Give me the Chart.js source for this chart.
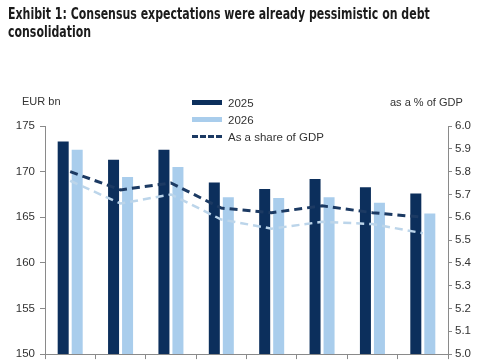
<!DOCTYPE html>
<html>
<head>
<meta charset="utf-8">
<script src="https://cdn.jsdelivr.net/npm/chart.js@4.4.1/dist/chart.umd.min.js"></script>
<style>
  html, body { margin: 0; padding: 0; background: #fff; }
  #wrap { position: relative; width: 485px; height: 360px; overflow: hidden; font-family: "Liberation Sans", Arial, sans-serif; color: #333; }
  #chart { position: absolute; left: 0; top: 0; }
  .title { position: absolute; left: 8px; top: 5px; font-family: "DejaVu Sans", sans-serif; font-weight: bold; font-size: 15px; line-height: 18px; color: #1b1b1b; white-space: nowrap; transform-origin: 0 0; }
  .axis-title { position: absolute; font-size: 11px; color: #333; }
  #legend { position: absolute; left: 192px; top: 94px; font-size: 11.5px; color: #333; }
  .leg-row { display: flex; align-items: center; height: 17px; }
  .leg-sw { width: 30px; height: 5px; margin-right: 6px; }
  .leg-dash { width: 30px; height: 0; border-top: 3px dashed; margin-right: 6px; }
</style>
</head>
<body>
<div id="wrap">
  <canvas id="chart" width="485" height="366"></canvas>
  <div class="title" id="title"><span id="t1">Exhibit 1: Consensus expectations were already pessimistic on debt</span><br>consolidation</div>
  <div class="axis-title" style="left:22px;top:95px;">EUR bn</div>
  <div class="axis-title" style="left:390px;top:96px;">as a % of GDP</div>
  <div id="legend"></div>
</div>
<script>
// categories (x labels are cut off in the reference, so not shown)
const CATEGORIES = ["Jan", "Feb", "Mar", "Apr", "May", "Jun", "Jul", "Aug"];
// EUR bn
const DEFICIT_2025 = [173.3, 171.3, 172.4, 168.8, 168.1, 169.2, 168.3, 167.6];
const DEFICIT_2026 = [172.4, 169.4, 170.5, 167.2, 167.1, 167.2, 166.6, 165.4];
// as a % of GDP
const SHARE_2025 = [5.80, 5.72, 5.75, 5.64, 5.62, 5.65, 5.62, 5.60];
const SHARE_2026 = [5.76, 5.66, 5.70, 5.59, 5.55, 5.58, 5.57, 5.53];
const LEFT_TICKS = [150, 155, 160, 165, 170, 175];
const RIGHT_TICKS = [5.0, 5.1, 5.2, 5.3, 5.4, 5.5, 5.6, 5.7, 5.8, 5.9, 6.0];

const DARK = "#0c2f5c";
const LIGHT = "#a9cdec";
const DARK_LINE = "#1c3a63";
const LIGHT_LINE = "#bcd5ea";
const AXIS = "#8a8a8a";

const datasets = [
  { type: "line", label: "As a share of GDP", data: SHARE_2025, yAxisID: "y1", borderColor: DARK_LINE, borderWidth: 3, borderDash: [8, 5], pointRadius: 0, fill: false, tension: 0, order: 0 },
  { type: "line", label: "", data: SHARE_2026, yAxisID: "y1", borderColor: LIGHT_LINE, borderWidth: 2.5, borderDash: [8, 5], pointRadius: 0, fill: false, tension: 0, order: 0 },
  { type: "bar", label: "2025", data: DEFICIT_2025, yAxisID: "y", backgroundColor: DARK, categoryPercentage: 0.556, barPercentage: 0.786, order: 1 },
  { type: "bar", label: "2026", data: DEFICIT_2026, yAxisID: "y", backgroundColor: LIGHT, categoryPercentage: 0.556, barPercentage: 0.786, order: 1 },
];

// squeeze the title so the first line spans like the reference (condensed face)
function fitTitle() {
  const w = document.getElementById("t1").getBoundingClientRect().width;
  const title = document.getElementById("title");
  title.style.transform = "scaleX(" + (422 / w).toFixed(3) + ")";
}

function initLegend() {
  const el = document.getElementById("legend");
  const items = [datasets[2], datasets[3], datasets[0]];
  items.forEach((d) => {
    const row = document.createElement("div");
    row.className = "leg-row";
    const sw = document.createElement("span");
    if (d.type === "bar") {
      sw.className = "leg-sw";
      sw.style.background = d.backgroundColor;
    } else {
      sw.className = "leg-dash";
      sw.style.borderColor = d.borderColor;
    }
    const txt = document.createElement("span");
    txt.textContent = d.label;
    row.appendChild(sw);
    row.appendChild(txt);
    el.appendChild(row);
  });
}

function initChart() {
  Chart.defaults.font.family = '"Liberation Sans", Arial, sans-serif';
  Chart.defaults.font.size = 11;
  Chart.defaults.color = "#333";

  new Chart(document.getElementById("chart"), {
    type: "bar",
    data: { labels: CATEGORIES, datasets },
    options: {
      responsive: false,
      animation: false,
      layout: { padding: { top: 126, left: 0, right: 0, bottom: 0 } },
      plugins: { legend: { display: false }, tooltip: { enabled: false } },
      scales: {
        x: {
          offset: true,
          grid: { display: true, drawOnChartArea: false, offset: true, tickLength: 5, color: AXIS },
          border: { color: AXIS },
          ticks: { display: false },
          afterFit: (s) => { s.height = 6; },
        },
        y: {
          position: "left",
          min: LEFT_TICKS[0],
          max: LEFT_TICKS[LEFT_TICKS.length - 1],
          afterBuildTicks: (s) => { s.ticks = LEFT_TICKS.map((v) => ({ value: v })); },
          ticks: { padding: 5, font: { size: 11.5 }, color: "#333" },
          grid: { drawOnChartArea: false, tickLength: 5, color: AXIS },
          border: { color: AXIS },
          afterFit: (s) => { s.width = 45; },
        },
        y1: {
          position: "right",
          min: RIGHT_TICKS[0],
          max: RIGHT_TICKS[RIGHT_TICKS.length - 1],
          afterBuildTicks: (s) => { s.ticks = RIGHT_TICKS.map((v) => ({ value: v })); },
          ticks: { padding: 3, font: { size: 11.5 }, color: "#333", callback: (v) => Number(v).toFixed(1) },
          grid: { drawOnChartArea: false, tickLength: 4, color: AXIS },
          border: { color: AXIS },
          afterFit: (s) => { s.width = 37; },
        },
      },
    },
  });
}

fitTitle();
initLegend();
initChart();
</script>
</body>
</html>
